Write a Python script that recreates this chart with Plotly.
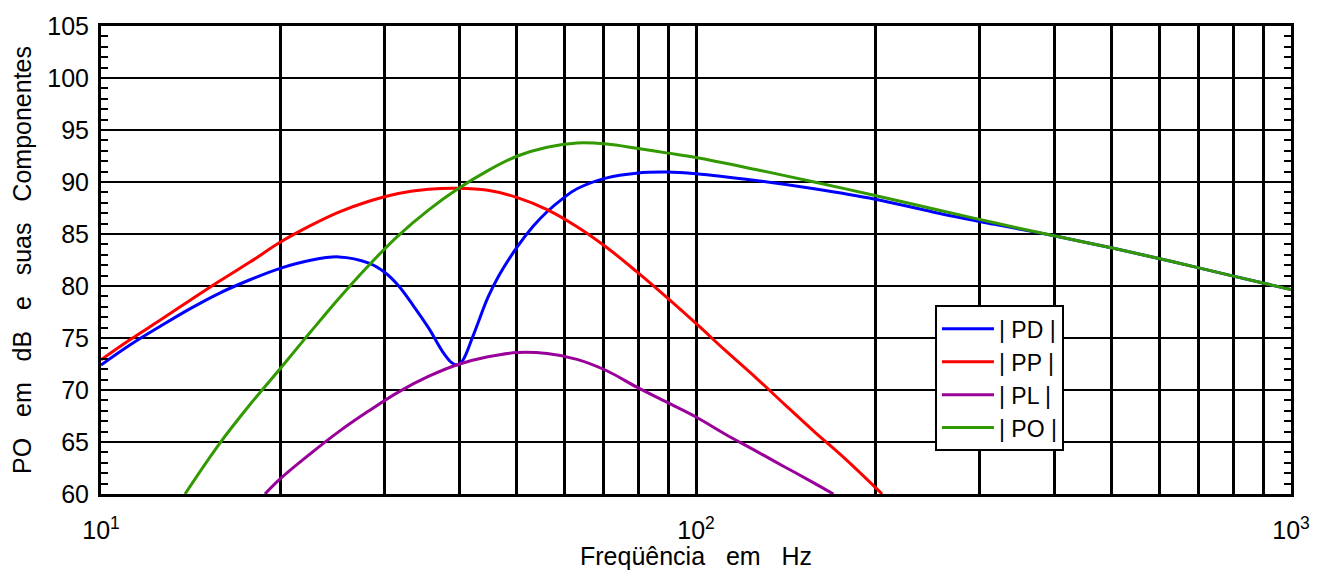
import plotly.graph_objects as go

# |PD| - diaphragm component (frequency in Hz, level in dB)
pd_freq = [10, 11.2, 12.6, 14.1, 15.8, 17.8, 20, 22.4, 25.1, 28.2, 30, 31.6, 33.5, 35.5,
           37.6, 38.8, 39.6, 40.5, 42.2, 44.7, 46.7, 50.1, 53.2, 56.2, 60, 63.1, 70.8, 79.4,
           89.1, 100, 126, 158, 200, 251, 316, 398, 501, 631, 794, 1000]
pd_db = [72.4, 74.35, 76.15, 77.8, 79.3, 80.6, 81.7, 82.45, 82.8, 82.2, 81.3, 80.05, 78.1, 76.0,
         73.6, 72.65, 72.4, 72.8, 75.2, 78.9, 81.05, 83.78, 85.72, 87.14, 88.5, 89.35, 90.4, 90.85,
         90.95, 90.8, 90.15, 89.35, 88.35, 87.1, 85.95, 84.85, 83.65, 82.35, 81.0, 79.65]

# |PP| - port component
pp_freq = [10, 11.2, 12.6, 14.1, 15.8, 17.8, 20, 22.4, 25.1, 28.2, 31.6, 35.5, 39.8, 44.7,
           50.1, 56.2, 63.1, 70.8, 79.4, 89.1, 100, 112, 126, 141, 158, 178, 205.5]
pp_db = [72.9, 74.85, 76.75, 78.6, 80.45, 82.3, 84.2, 85.75, 87.1, 88.15, 88.9, 89.3, 89.4, 89.2,
         88.5, 87.35, 85.7, 83.7, 81.4, 78.95, 76.4, 73.8, 71.2, 68.6, 66.0, 63.4, 60.0]

# |PL| - leakage component
pl_freq = [18.86, 20, 22.4, 25.1, 28.2, 31.6, 35.5, 39.8, 44.7, 50.1, 56.2, 63.1, 70.8, 79.4,
           89.1, 100, 112, 126, 141, 158, 170.2]
pl_db = [60.0, 61.45, 63.8, 66.0, 68.0, 69.8, 71.3, 72.45, 73.2, 73.6, 73.5, 72.95, 71.85, 70.3,
         68.85, 67.4, 65.75, 64.15, 62.6, 61.05, 60.0]

# |PO| - total output
po_freq = [13.84, 15.8, 17.8, 20, 22.4, 25.1, 28.2, 31.6, 35.5, 39.8, 44.7, 50.1, 56.2, 63.1,
           70.8, 79.4, 89.1, 100, 126, 158, 200, 251, 316, 398, 501, 631, 794, 1000]
po_db = [60.0, 64.8, 68.6, 72.05, 75.45, 78.8, 82.0, 84.85, 87.3, 89.35, 91.1, 92.5, 93.35, 93.75,
         93.65, 93.25, 92.8, 92.35, 91.2, 90.0, 88.7, 87.4, 86.1, 84.85, 83.65, 82.35, 81.0, 79.65]

x_major = [10, 100, 1000]
x_major_text = ["10<sup>1</sup>", "10<sup>2</sup>", "10<sup>3</sup>"]
x_minor = [20, 30, 40, 50, 60, 70, 80, 90, 200, 300, 400, 500, 600, 700, 800, 900]

series = [
    ("| PD |", pd_freq, pd_db, "#0000ff"),
    ("| PP |", pp_freq, pp_db, "#ff0000"),
    ("| PL |", pl_freq, pl_db, "#990099"),
    ("| PO |", po_freq, po_db, "#339900"),
]

FONT = "Liberation Sans, Arial, sans-serif"
FS = 25

fig = go.Figure()
for name, f, v, c in series:
    fig.add_trace(go.Scatter(
        x=f, y=v, name=name, mode="lines",
        line=dict(color=c, width=3, shape="spline", smoothing=1.0),
    ))

fig.update_layout(
    width=1328, height=576,
    margin=dict(l=101, r=37, t=19, b=82),
    paper_bgcolor="white", plot_bgcolor="white",
    font=dict(family=FONT, size=FS, color="black"),
    showlegend=True,
    legend=dict(
        x=0.7008, y=0.403, xanchor="left", yanchor="top",
        bgcolor="white", bordercolor="black", borderwidth=2,
        font=dict(family=FONT, size=23, color="black"),
        itemwidth=52,
    ),
)

fig.update_xaxes(
    type="log", range=[1, 3],
    tickvals=x_major, ticktext=x_major_text,
    showgrid=True, gridcolor="black", gridwidth=2.5,
    minor=dict(tickvals=x_minor, showgrid=True, gridcolor="black", gridwidth=2.5, ticks=""),
    showline=True, linecolor="black", linewidth=3, mirror=True,
    ticks="", ticklabelstandoff=12,
    tickfont=dict(family=FONT, size=FS, color="black"),
    zeroline=False,
)

fig.update_yaxes(
    range=[60, 105], dtick=5, tick0=60,
    showgrid=True, gridcolor="black", gridwidth=1.5,
    showline=True, linecolor="black", linewidth=3, mirror="ticks",
    ticks="inside", ticklen=7, tickwidth=2, tickcolor="black",
    minor=dict(dtick=1, ticks="inside", ticklen=7, tickwidth=2,
               tickcolor="black", showgrid=False),
    tickfont=dict(family=FONT, size=FS, color="black"),
    ticklabelstandoff=4,
    zeroline=False,
)

fig.add_annotation(
    text="Freqüência\u00a0\u00a0\u00a0em\u00a0\u00a0\u00a0Hz",
    xref="paper", yref="paper", x=0.5, y=-0.1328,
    xanchor="center", yanchor="middle", showarrow=False,
    font=dict(family=FONT, size=FS, color="black"),
)
fig.add_annotation(
    text="PO\u00a0\u00a0\u00a0em\u00a0\u00a0\u00a0dB\u00a0\u00a0\u00a0e\u00a0\u00a0\u00a0suas\u00a0\u00a0\u00a0Componentes",
    xref="paper", yref="paper", x=-0.0664, y=0.5,
    xanchor="center", yanchor="middle", showarrow=False, textangle=-90,
    font=dict(family=FONT, size=FS, color="black"),
)

fig.write_html("out.html")
